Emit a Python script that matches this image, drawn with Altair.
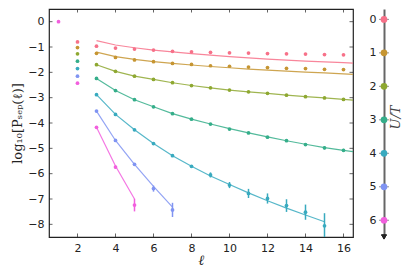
import altair as alt
import pandas as pd

# ---------------- data ----------------
U_VALUES = [0, 1, 2, 3, 4, 5, 6]
COLORS = ["#f77189", "#c69532", "#8ea831", "#35ae8a", "#38aabf", "#8094f2", "#f25fde"]

# isolated points
ISO_ELL = [1, 2, 2, 2, 2, 2, 2, 2]
ISO_U = [6, 0, 1, 2, 3, 4, 5, 6]
ISO_Y = [0.0, -0.80, -1.02, -1.27, -1.56, -1.85, -2.15, -2.43]

ELL = list(range(3, 17))
PTS = {
    0: [-0.97, -1.04, -1.08, -1.12, -1.17, -1.19, -1.21, -1.23, -1.24, -1.26, -1.27, -1.28, -1.30, -1.31],
    1: [-1.25, -1.41, -1.51, -1.58, -1.65, -1.69, -1.74, -1.76, -1.79, -1.81, -1.84, -1.85, -1.88, -1.89],
    2: [-1.70, -1.96, -2.15, -2.28, -2.41, -2.52, -2.61, -2.70, -2.77, -2.83, -2.90, -2.96, -3.01, -3.07],
    3: [-2.24, -2.72, -3.08, -3.36, -3.63, -3.85, -4.04, -4.24, -4.39, -4.56, -4.70, -4.85, -4.98, -5.08],
    4: [-2.88, -3.66, -4.27, -4.81, -5.29, -5.71, -6.05, -6.45, -6.78, -6.98, -7.26, -7.52, -8.06],
    5: [-3.53, -4.69, -5.63, -6.59, -7.43],
    6: [-4.17, -5.74, -7.24],
}
ERR = {
    0: [0.02] * 14,
    1: [0.02] * 14,
    2: [0.02] * 14,
    3: [0.02, 0.02, 0.02, 0.02, 0.02, 0.02, 0.03, 0.03, 0.04, 0.04, 0.05, 0.05, 0.06, 0.06],
    4: [0.02, 0.02, 0.03, 0.03, 0.04, 0.05, 0.10, 0.12, 0.18, 0.20, 0.25, 0.30, 0.50],
    5: [0.02, 0.03, 0.05, 0.12, 0.28],
    6: [0.03, 0.06, 0.25],
}
FIT_ELL = list(range(3, 17)) + [16.5]
FIT = {
    0: [-0.75, -0.92, -1.03, -1.12, -1.19, -1.26, -1.32, -1.38, -1.43, -1.48, -1.52, -1.56, -1.59, -1.62, -1.64],
    1: [-1.20, -1.38, -1.49, -1.58, -1.65, -1.71, -1.77, -1.82, -1.87, -1.91, -1.95, -1.99, -2.02, -2.06, -2.08],
    2: [-1.70, -1.96, -2.15, -2.28, -2.41, -2.52, -2.61, -2.70, -2.77, -2.83, -2.90, -2.96, -3.01, -3.07, -3.10],
    3: [-2.24, -2.72, -3.08, -3.36, -3.63, -3.85, -4.04, -4.22, -4.39, -4.55, -4.70, -4.84, -4.97, -5.08, -5.13],
    4: [-2.88, -3.66, -4.27, -4.81, -5.29, -5.71, -6.09, -6.43, -6.76, -7.07, -7.36, -7.63, -7.90],
    5: [-3.53, -4.69, -5.63, -6.50, -7.32],
    6: [-4.17, -5.70, -7.00],
}

X_DOMAIN = [0.5, 16.5]
Y_DOMAIN = [-8.5, 0.5]
X_TICKS = [2, 4, 6, 8, 10, 12, 14, 16]
Y_TICKS = [0, -1, -2, -3, -4, -5, -6, -7, -8]
LEG_DOMAIN = [-0.31, 6.5]

# ---------------- tables ----------------
pts_rows, fit_rows = [], []
for u in U_VALUES:
    for l, v, e in zip(ELL, PTS[u], ERR[u]):
        pts_rows.append({"ell": l, "y": v, "lo": v - e, "hi": v + e, "U": u})
    for l, v in zip(FIT_ELL, FIT[u]):
        fit_rows.append({"ell": l, "y": v, "U": u})
for l, u, v in zip(ISO_ELL, ISO_U, ISO_Y):
    pts_rows.append({"ell": l, "y": v, "lo": v, "hi": v, "U": u})
pts = pd.DataFrame(pts_rows)
fit = pd.DataFrame(fit_rows)

xticks = pd.DataFrame(
    [{"t": t, "edge": Y_DOMAIN[0]} for t in X_TICKS] + [{"t": t, "edge": Y_DOMAIN[1]} for t in X_TICKS]
)
yticks = pd.DataFrame(
    [{"t": t, "edge": X_DOMAIN[0]} for t in Y_TICKS] + [{"t": t, "edge": X_DOMAIN[1]} for t in Y_TICKS]
)

xscale = alt.Scale(domain=X_DOMAIN, nice=False, zero=False)
yscale = alt.Scale(domain=Y_DOMAIN, nice=False, zero=False)
cscale = alt.Scale(domain=U_VALUES, range=COLORS)

xaxis = alt.Axis(values=X_TICKS, ticks=False, grid=False, domain=False, labelFontSize=11,
                 labelFont="DejaVu Sans", labelColor="#222", labelPadding=5, labelOverlap=False,
                 title="ℓ", titleFont="DejaVu Serif", titleFontStyle="italic",
                 titleFontWeight="normal", titleFontSize=14, titlePadding=0, titleColor="#222")
yaxis = alt.Axis(values=Y_TICKS, ticks=False, grid=False, domain=False, labelFontSize=11,
                 labelFont="DejaVu Sans", labelColor="#222", labelPadding=5, labelOverlap=False,
                 title="log₁₀[Pₛₑₚ(ℓ)]", titleFont="DejaVu Serif", titleFontWeight="normal",
                 titleFontSize=13, titlePadding=3, titleColor="#222")


def X(field):
    return alt.X(field, scale=xscale, axis=xaxis)


def Y(field):
    return alt.Y(field, scale=yscale, axis=yaxis)


base_pts = alt.Chart(pts)
lines = alt.Chart(fit).mark_line(strokeWidth=1.2, opacity=0.85, clip=True).encode(
    x=X("ell:Q"), y=Y("y:Q"),
    color=alt.Color("U:O", scale=cscale, legend=None),
    detail="U:O",
)
errs = base_pts.mark_rule(strokeWidth=1.5, clip=True).encode(
    x=X("ell:Q"), y=Y("lo:Q"), y2="hi:Q",
    color=alt.Color("U:O", scale=cscale, legend=None),
)
dots = base_pts.mark_circle(size=14, opacity=1, clip=True).encode(
    x=X("ell:Q"), y=Y("y:Q"),
    color=alt.Color("U:O", scale=cscale, legend=None),
)
xt = alt.Chart(xticks).mark_tick(orient="vertical", size=7, thickness=1, color="#222", clip=True).encode(
    x=X("t:Q"), y=Y("edge:Q"))
yt = alt.Chart(yticks).mark_tick(orient="horizontal", size=7, thickness=1, color="#222", clip=True).encode(
    x=X("edge:Q"), y=Y("t:Q"))

main = alt.layer(lines, errs, dots, xt, yt).properties(
    width=304, height=228,
    view=alt.ViewBackground(stroke="#222", strokeWidth=1.2),
)

# ---------------- U/T legend ----------------
leg_df = pd.DataFrame({"U": U_VALUES})
lscale = alt.Scale(domain=LEG_DOMAIN, nice=False, zero=False, reverse=True)
laxis = alt.Axis(values=U_VALUES, ticks=False, grid=False, domain=True, domainColor="#666",
                 domainWidth=2, labelFontSize=11, labelFont="DejaVu Sans", labelColor="#222",
                 labelPadding=8, labelOverlap=False, title="U/T", titleFont="DejaVu Serif",
                 titleFontStyle="italic", titleFontWeight="normal", titleFontSize=13,
                 titleAngle=270, titleX=18, titleY=108, titleColor="#444")
leg_ticks = alt.Chart(leg_df).mark_tick(orient="horizontal", size=10, thickness=1, color="#666").encode(
    y=alt.Y("U:Q", scale=lscale, axis=laxis), x=alt.value(0))
leg_dots = alt.Chart(leg_df).mark_circle(size=45, opacity=1).encode(
    y=alt.Y("U:Q", scale=lscale, axis=laxis), x=alt.value(0),
    color=alt.Color("U:O", scale=cscale, legend=None))
arrow = alt.Chart(leg_df).mark_point(shape="triangle-down", filled=True, size=28, color="#222",
                                     opacity=1).encode(
    y=alt.datum(LEG_DOMAIN[1], scale=lscale, axis=laxis), x=alt.value(0))
legend = alt.layer(leg_ticks, leg_dots, arrow).properties(
    width=1, height=228, view=alt.ViewBackground(strokeOpacity=0))

chart = alt.hconcat(main, legend, spacing=15).resolve_scale(
    x="independent", y="independent"
).properties(padding={"top": 0, "left": 3, "right": 0, "bottom": 0}
).configure(background="white")

chart.save("out.html", embed_options={"renderer": "svg", "actions": False})
